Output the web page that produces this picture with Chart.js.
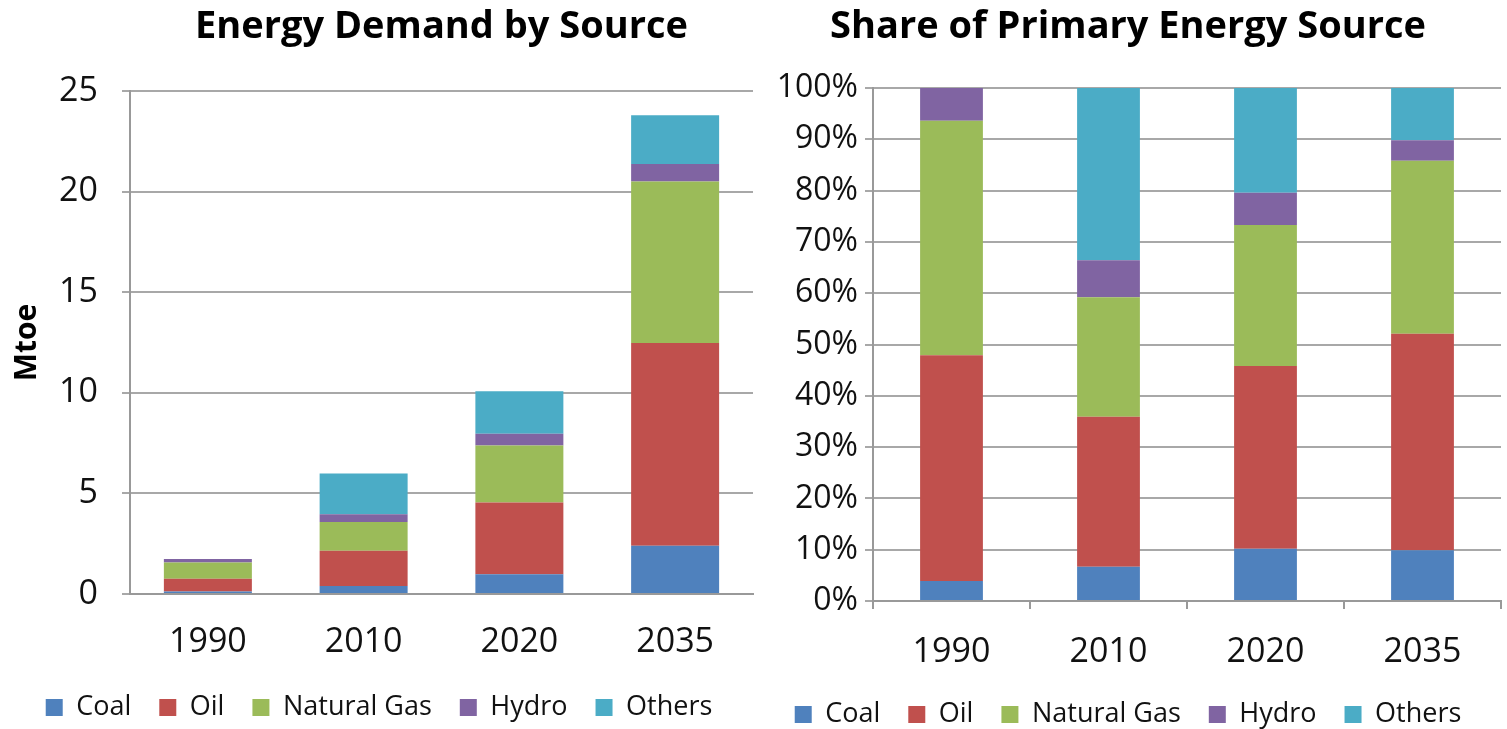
<!DOCTYPE html>
<html>
<head>
<meta charset="utf-8">
<script src="https://cdn.jsdelivr.net/npm/chart.js"></script>
<style>
html, body { margin: 0; padding: 0; background: #fff; overflow: hidden; width: 1507px; height: 729px; }
#demandChart { position: absolute; left: 0; top: 0; }
#shareChart { position: absolute; left: 755px; top: 0; }
</style>
</head>
<body>
<canvas id="demandChart" width="756" height="731"></canvas>
<canvas id="shareChart" width="752" height="738"></canvas>
<script>
const years = ['1990', '2010', '2020', '2035'];
const sources = ['Coal', 'Oil', 'Natural Gas', 'Hydro', 'Others'];
const colors = ['#4F81BD', '#C0504D', '#9BBB59', '#8064A2', '#4BACC6'];

// Energy demand, Mtoe (left panel)
const demandCoal   = [0.12, 0.40, 0.98, 2.40];
const demandOil    = [0.64, 1.75, 3.57, 10.08];
const demandGas    = [0.81, 1.43, 2.83, 8.02];
const demandHydro  = [0.17, 0.38, 0.58, 0.87];
const demandOthers = [0.00, 2.03, 2.12, 2.43];
const demandMax = 25, demandStep = 5;

// Share of primary energy, % (right panel)
const shareCoal   = [3.9, 6.7, 10.2, 9.9];
const shareOil    = [44.0, 29.2, 35.6, 42.2];
const shareGas    = [45.7, 23.3, 27.5, 33.7];
const shareHydro  = [6.4, 7.2, 6.3, 4.0];
const shareOthers = [0.0, 33.6, 20.4, 10.2];
const shareMax = 100, shareStep = 10;

Chart.defaults.font.family = "'Open Sans', sans-serif";
Chart.defaults.color = '#111';

function makeDatasets(series, barPct) {
    return series.map(function (values, i) {
        return {
            label: sources[i],
            data: values,
            backgroundColor: colors[i],
            borderWidth: 0,
            barPercentage: barPct,
            categoryPercentage: 1.0
        };
    });
}

const gridColor = '#a8a8a8';
const axisColor = '#999';
const legendLabels = { font: { size: 27 }, boxWidth: 17, boxHeight: 17, padding: 28, color: '#111' };

new Chart(document.getElementById('demandChart'), {
    type: 'bar',
    data: {
        labels: years,
        datasets: makeDatasets([demandCoal, demandOil, demandGas, demandHydro, demandOthers], 0.565)
    },
    options: {
        responsive: false,
        animation: false,
        layout: { padding: { left: 5, right: 3, top: 0, bottom: 0 } },
        plugins: {
            title: {
                display: true,
                text: 'Energy Demand by Source',
                fullSize: false,
                color: '#000',
                font: { size: 38, weight: 'bold' },
                padding: { top: 4.2, bottom: 41.2 }
            },
            legend: { position: 'bottom', labels: legendLabels },
            tooltip: { enabled: false }
        },
        scales: {
            x: {
                stacked: true,
                grid: { display: true, drawOnChartArea: false, drawTicks: false },
                border: { color: axisColor, width: 2 },
                ticks: { font: { size: 34 }, padding: 27.6 },
                afterFit: function (scale) { scale.height = 72; }
            },
            y: {
                stacked: true,
                min: 0,
                max: demandMax,
                ticks: { stepSize: demandStep, font: { size: 34 }, padding: 24 },
                grid: { color: gridColor, lineWidth: 2, tickLength: 8 },
                border: { color: axisColor, width: 2 },
                title: { display: true, text: 'Mtoe', color: '#000', font: { size: 30, weight: 'bold' } },
                afterFit: function (scale) { scale.width = 125; }
            }
        }
    }
});

new Chart(document.getElementById('shareChart'), {
    type: 'bar',
    data: {
        labels: years,
        datasets: makeDatasets([shareCoal, shareOil, shareGas, shareHydro, shareOthers], 0.4)
    },
    options: {
        responsive: false,
        animation: false,
        layout: { padding: { left: 0, right: 6, top: 0, bottom: 0 } },
        plugins: {
            title: {
                display: true,
                text: 'Share of Primary Energy Source',
                color: '#000',
                font: { size: 38, weight: 'bold' },
                padding: { top: 4.2, bottom: 38.2 }
            },
            legend: { position: 'bottom', labels: legendLabels },
            tooltip: { enabled: false }
        },
        scales: {
            x: {
                stacked: true,
                grid: { display: true, drawOnChartArea: false, drawTicks: true, tickLength: 8, color: axisColor, lineWidth: 2 },
                border: { color: axisColor, width: 2 },
                ticks: { font: { size: 34 }, padding: 22.6 },
                afterFit: function (scale) { scale.height = 72; }
            },
            y: {
                stacked: true,
                min: 0,
                max: shareMax,
                ticks: {
                    stepSize: shareStep,
                    font: { size: 32 },
                    padding: 7,
                    callback: function (v) { return v + '%'; }
                },
                grid: { color: gridColor, lineWidth: 2, tickLength: 8 },
                border: { color: axisColor, width: 2 },
                afterFit: function (scale) { scale.width = 118; }
            }
        }
    }
});
</script>
</body>
</html>
